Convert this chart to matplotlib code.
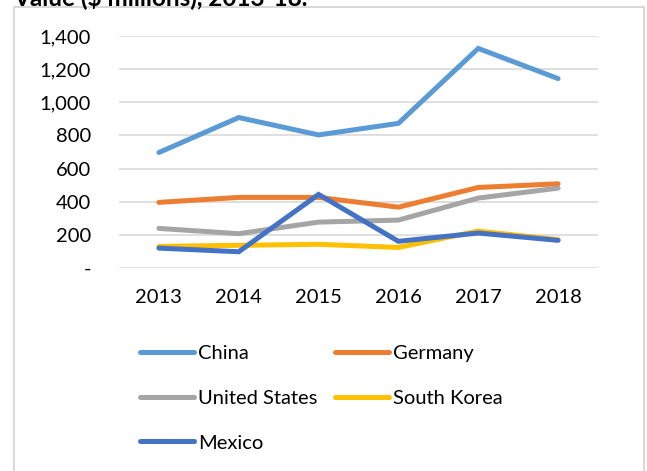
import matplotlib.pyplot as plt
from matplotlib.patches import Rectangle
from matplotlib.ticker import FuncFormatter

plt.rcParams['font.family'] = ['Lato', 'DejaVu Sans']

years = ['2013', '2014', '2015', '2016', '2017', '2018']
china = [697, 908, 803, 873, 1325, 1143]
germany = [396, 426, 426, 367, 486, 508]
united_states = [239, 207, 277, 289, 422, 482]
south_korea = [130, 137, 143, 124, 223, 171]
mexico = [120, 98, 444, 161, 211, 167]

names = ['China', 'Germany', 'United States', 'South Korea', 'Mexico']
series = [china, germany, united_states, south_korea, mexico]
colors = ['#5B9BD5', '#ED7D31', '#A5A5A5', '#FFC000', '#4472C4']

fig = plt.figure(figsize=(6.47, 4.71), dpi=100)
ax = fig.add_axes([119 / 647, 1 - 268 / 471, 479 / 647, 232 / 471])

x = list(range(len(years)))
lines = {}
for name, vals, c in zip(names, series, colors):
    ln, = ax.plot(x, vals, color=c, lw=3.6, solid_capstyle='round',
                  solid_joinstyle='miter', label=name)
    lines[name] = ln

ax.set_xlim(-0.5, len(years) - 0.5)
ax.set_ylim(0, 1400)
ax.set_yticks(range(0, 1401, 200))
ax.yaxis.set_major_formatter(FuncFormatter(lambda v, p: '-' if v == 0 else f'{int(v):,}'))
ax.set_xticks(x)
ax.set_xticklabels(years)
ax.grid(axis='y', color='#D9D9D9', lw=1.2)
ax.set_axisbelow(True)
for s in ax.spines.values():
    s.set_visible(False)
ax.tick_params(axis='both', length=0, labelsize=14.5, colors='#000000')
ax.tick_params(axis='y', pad=20)
ax.tick_params(axis='x', pad=15)

order = ['China', 'United States', 'Mexico', 'Germany', 'South Korea']
leg = fig.legend([lines[n] for n in order], order, ncol=2, frameon=False,
                 loc='upper left', bbox_to_anchor=(132 / 647, 1 - 337 / 471),
                 fontsize=14.5, handlelength=2.7, handletextpad=0.2,
                 columnspacing=0.85, labelspacing=1.37, borderaxespad=0)

fig.patches.append(Rectangle((14 / 647, -0.05), 630 / 647, 1.05 - 7 / 471,
                             transform=fig.transFigure, fill=False,
                             edgecolor='#D9D9D9', lw=1.5))

fig.text(13 / 647, 1 - 5 / 471, 'Value ($ millions), 2013-18.', fontsize=17.5,
         fontweight='bold', ha='left', va='baseline')

fig.savefig('out.png', dpi=100)
